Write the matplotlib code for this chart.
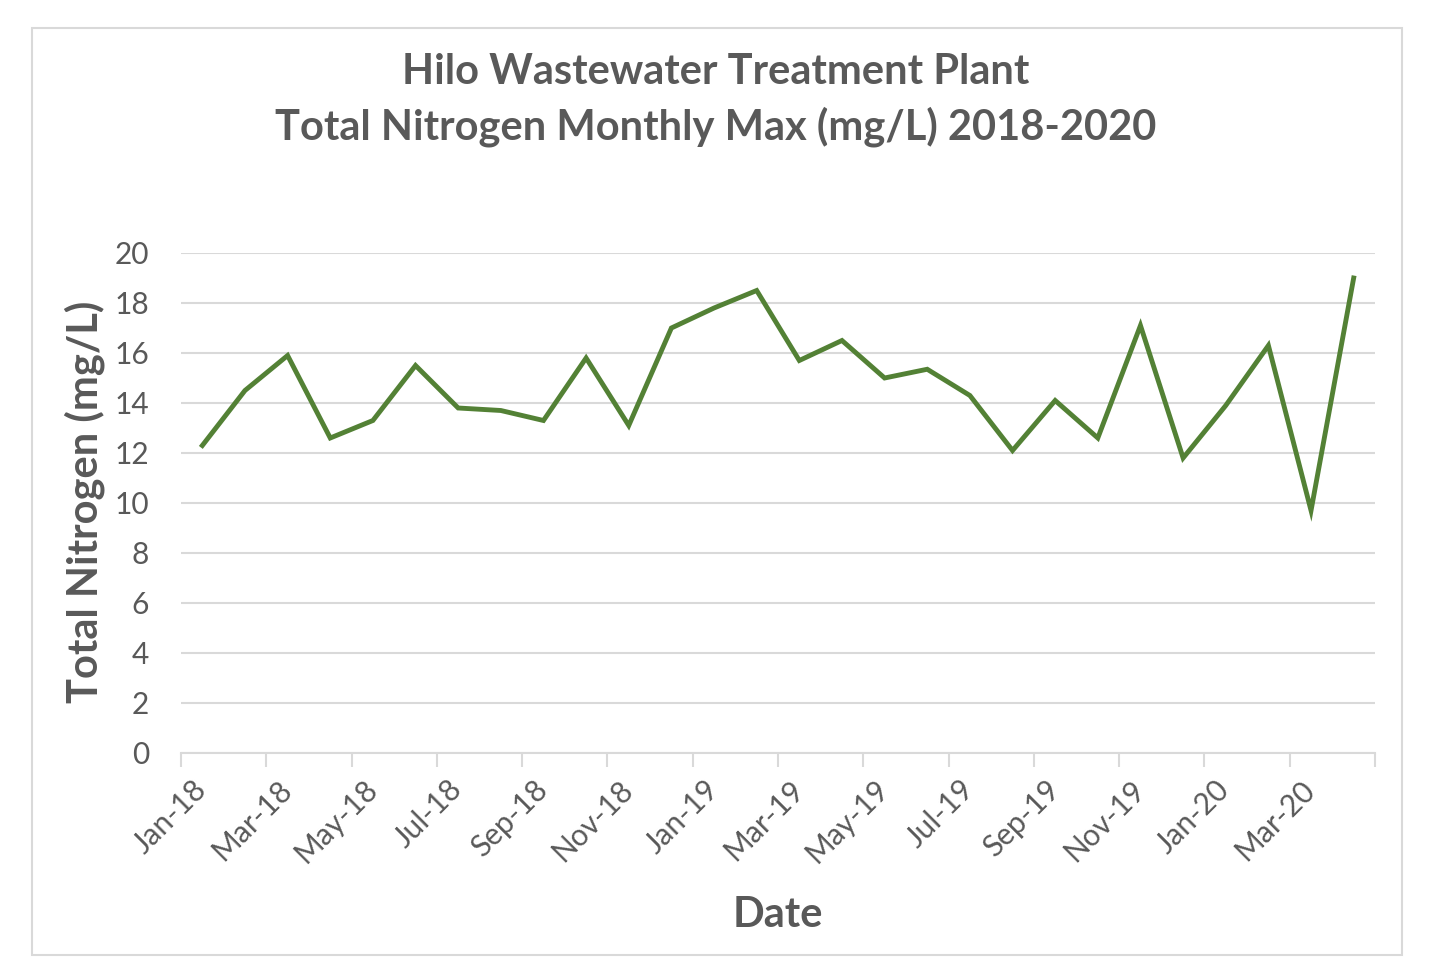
import matplotlib
matplotlib.use('Agg')
import matplotlib.pyplot as plt
import matplotlib.transforms as mtransforms
from matplotlib.patches import Rectangle

# monthly max total nitrogen, Jan-18 .. Apr-20
months = ['Jan-18', 'Feb-18', 'Mar-18', 'Apr-18', 'May-18', 'Jun-18', 'Jul-18',
          'Aug-18', 'Sep-18', 'Oct-18', 'Nov-18', 'Dec-18', 'Jan-19', 'Feb-19',
          'Mar-19', 'Apr-19', 'May-19', 'Jun-19', 'Jul-19', 'Aug-19', 'Sep-19',
          'Oct-19', 'Nov-19', 'Dec-19', 'Jan-20', 'Feb-20', 'Mar-20', 'Apr-20']
nitrogen = [12.3, 14.5, 15.9, 12.6, 13.3, 15.5, 13.8, 13.7, 13.3, 15.8, 13.1, 17.0,
            17.8, 18.5, 15.7, 16.5, 15.0, 15.35, 14.3, 12.1, 14.1, 12.6, 17.1, 11.8,
            13.9, 16.3, 9.7, 19.0]
tick_labels = ['Jan-18', 'Mar-18', 'May-18', 'Jul-18', 'Sep-18', 'Nov-18', 'Jan-19',
               'Mar-19', 'May-19', 'Jul-19', 'Sep-19', 'Nov-19', 'Jan-20', 'Mar-20', '']
y_ticks = [0, 2, 4, 6, 8, 10, 12, 14, 16, 18, 20]

TEXT = '#595959'
GRID = '#d9d9d9'
LINE = '#538135'

plt.rcParams['font.family'] = ['Lato', 'DejaVu Sans']

fig = plt.figure(figsize=(14.32, 9.74), dpi=100)
fig.patches.append(Rectangle((32 / 1432, 1 - 955 / 974), 1370 / 1432, 927 / 974,
                             transform=fig.transFigure, fill=False,
                             edgecolor=GRID, linewidth=1.5))

ax = fig.add_axes([181 / 1432, 1 - 753 / 974, 1194 / 1432, 500 / 974])

# each month sits in the middle of its slot, ticks between slots
x = [i + 0.5 for i in range(len(nitrogen))]
ax.plot(x, nitrogen, color=LINE, linewidth=3.5, solid_joinstyle='miter', zorder=3)

ax.set_xlim(0, len(nitrogen))
ax.set_ylim(0, 20)
ax.set_yticks(y_ticks)
tick_pos = list(range(0, len(nitrogen) + 1, 2))
ax.set_xticks(tick_pos)
ax.set_xticklabels([])

# rotated labels sit a bit right of / below the tick, excel style
shift = mtransforms.ScaledTranslation(11 / 100, -22 / 100, fig.dpi_scale_trans)
for pos, lbl in zip(tick_pos, tick_labels):
    ax.text(pos, 0, lbl, transform=ax.get_xaxis_transform() + shift,
            rotation=45, ha='right', va='top', rotation_mode='anchor',
            fontsize=21.5, color=TEXT)

ax.grid(axis='y', color=GRID, linewidth=1.5)
ax.set_axisbelow(True)
for s in ['top', 'right', 'left']:
    ax.spines[s].set_visible(False)
ax.spines['bottom'].set_color(GRID)
ax.spines['bottom'].set_linewidth(1.5)

ax.tick_params(axis='y', length=0, pad=23, labelsize=21.5, labelcolor=TEXT)
ax.tick_params(axis='x', length=10, width=1.5, color=GRID)

fig.text(778 / 1432, 1 - 915 / 974, 'Date', ha='center', va='center',
         fontsize=30, fontweight='bold', color=TEXT)
fig.text(85 / 1432, 1 - 502 / 974, 'Total Nitrogen (mg/L)', ha='center',
         va='center', rotation=90, fontsize=30, fontweight='bold', color=TEXT)

fig.text(0.5, 1 - 72 / 974, 'Hilo Wastewater Treatment Plant', ha='center',
         va='center', fontsize=30, fontweight='bold', color=TEXT)
fig.text(0.5, 1 - 127 / 974, 'Total Nitrogen Monthly Max (mg/L) 2018-2020',
         ha='center', va='center', fontsize=30, fontweight='bold', color=TEXT)

fig.savefig('out.png', dpi=100)
